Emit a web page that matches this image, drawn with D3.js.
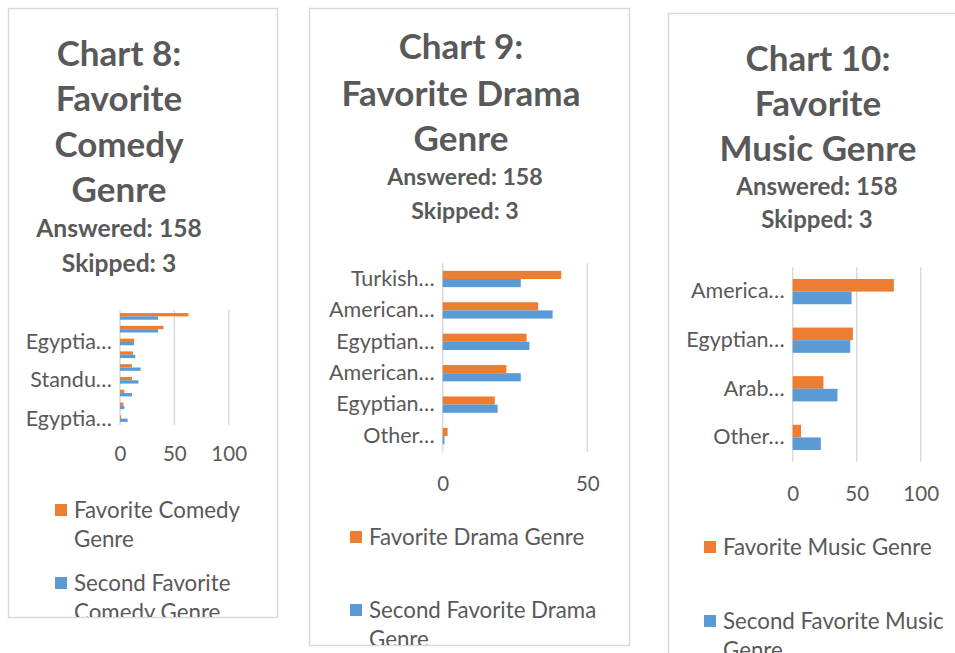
<!DOCTYPE html>
<html>
<head>
<meta charset="utf-8">
<script src="https://cdn.jsdelivr.net/npm/d3@7"></script>
<style>
  html, body { margin: 0; padding: 0; background: #ffffff; }
  svg text { font-family: Lato, "Open Sans", sans-serif; fill: #595959; }
</style>
</head>
<body>
<div id="chart"></div>
<script>
'use strict';

// chart 8 - comedy (top to bottom as drawn)
const comedyLabels = ["American…", "Egyptian…", "Egyptia…", "British…", "Arab…", "Standu…", "Sketch…", "Other…", "Egyptia…"];
const comedyShown = [2, 5, 8];
const comedyFavorite = [63, 40, 13, 12, 11, 11, 4, 3, 1];
const comedySecond = [35, 35, 13, 14, 19, 17, 11, 4, 7];
const comedyTicks = [0, 50, 100];
const comedyTitle = ["Chart 8:", "Favorite", "Comedy", "Genre"];
const comedySeries = ["Favorite Comedy Genre", "Second Favorite Comedy Genre"];

// chart 9 - drama
const dramaLabels = ["Turkish…", "American…", "Egyptian…", "American…", "Egyptian…", "Other…"];
const dramaFavorite = [41, 33, 29, 22, 18, 1.7];
const dramaSecond = [27, 38, 30, 27, 19, 0.6];
const dramaTicks = [0, 50];
const dramaTitle = ["Chart 9:", "Favorite Drama", "Genre"];
const dramaSeries = ["Favorite Drama Genre", "Second Favorite Drama Genre"];

// chart 10 - music
const musicLabels = ["America…", "Egyptian…", "Arab…", "Other…"];
const musicFavorite = [79, 47, 24, 6.5];
const musicSecond = [46, 45, 35, 22];
const musicTicks = [0, 50, 100];
const musicTitle = ["Chart 10:", "Favorite", "Music Genre"];
const musicSeries = ["Favorite Music Genre", "Second Favorite Music Genre"];

const subtitle = ["Answered: 158", "Skipped: 3"];

const orange = "#ED7D31";
const blue = "#5B9BD5";
const grid = "#D9D9D9";

const svg = d3.select("#chart")
    .append("svg")
    .attr("width", 955)
    .attr("height", 653);

function drawPanel(id, cfg) {

    const defs = svg.append("defs");
    defs.append("clipPath")
        .attr("id", "clip-" + id)
        .append("rect")
        .attr("x", cfg.box[0])
        .attr("y", cfg.box[1])
        .attr("width", cfg.box[2])
        .attr("height", cfg.box[3]);

    svg.append("rect")
        .attr("x", cfg.box[0] + 0.5)
        .attr("y", cfg.box[1] + 0.5)
        .attr("width", cfg.box[2])
        .attr("height", cfg.box[3])
        .attr("fill", "#fff")
        .attr("stroke", grid)
        .attr("stroke-width", 1.5);

    const g = svg.append("g").attr("clip-path", "url(#clip-" + id + ")");

    // title
    g.selectAll(".title")
        .data(cfg.title)
        .enter()
        .append("text")
        .attr("x", cfg.titleX)
        .attr("y", (d, i) => cfg.titleY[i])
        .attr("dy", "0.36em")
        .attr("text-anchor", "middle")
        .attr("font-size", 35)
        .attr("font-weight", 700)
        .text(d => d);

    g.selectAll(".sub")
        .data(subtitle)
        .enter()
        .append("text")
        .attr("x", cfg.subX)
        .attr("y", (d, i) => cfg.subY[i])
        .attr("dy", "0.36em")
        .attr("text-anchor", "middle")
        .attr("font-size", cfg.subSize)
        .attr("font-weight", 700)
        .text(d => d);

    const p = cfg.plot;
    const n = cfg.labels.length;

    const x = d3.scaleLinear()
        .domain([0, d3.max(cfg.ticks)])
        .range([p.left, p.right]);

    const y = d3.scaleBand()
        .domain(d3.range(n))
        .range([p.top, p.bottom])
        .paddingInner(0.48)
        .paddingOuter(0.24);

    const y1 = d3.scaleBand()
        .domain([0, 1])
        .range([0, y.bandwidth()]);

    // gridlines
    g.selectAll(".grid")
        .data(cfg.ticks)
        .enter()
        .append("line")
        .attr("x1", d => x(d))
        .attr("x2", d => x(d))
        .attr("y1", p.top)
        .attr("y2", p.bottom)
        .attr("stroke", grid)
        .attr("stroke-width", 1.5);

    // bars
    const rows = d3.range(n).map(i => [cfg.fav[i], cfg.second[i]]);
    const row = g.selectAll(".row")
        .data(rows)
        .enter()
        .append("g")
        .attr("transform", (d, i) => "translate(0," + y(i) + ")");

    row.selectAll("rect")
        .data(d => d)
        .enter()
        .append("rect")
        .attr("x", x(0))
        .attr("y", (d, j) => y1(j))
        .attr("width", d => x(d) - x(0))
        .attr("height", y1.bandwidth())
        .attr("fill", (d, j) => j === 0 ? orange : blue);

    // category axis
    const yAxis = g.append("g")
        .attr("transform", "translate(" + p.left + ",0)")
        .call(d3.axisLeft(y)
            .tickValues(cfg.shown || d3.range(n))
            .tickSize(0)
            .tickPadding(8)
            .tickFormat(i => cfg.labels[i]));
    yAxis.select(".domain").remove();
    yAxis.selectAll("text")
        .attr("font-size", 21.5)
        .attr("font-family", null)
        .attr("fill", null);

    // value axis
    const xAxis = g.append("g")
        .attr("transform", "translate(0," + cfg.xTickY + ")")
        .call(d3.axisBottom(x)
            .tickValues(cfg.ticks)
            .tickSize(0)
            .tickPadding(0));
    xAxis.select(".domain").remove();
    xAxis.selectAll("text")
        .attr("dy", "0.36em")
        .attr("y", 0)
        .attr("font-size", 20.5)
        .attr("font-family", null)
        .attr("fill", null);

    // legend
    const lg = cfg.legend;
    cfg.series.forEach((name, k) => {
        g.append("rect")
            .attr("x", lg.x)
            .attr("y", lg.y[k] - 6)
            .attr("width", 12)
            .attr("height", 12)
            .attr("fill", k === 0 ? orange : blue);

        const t = g.append("text")
            .attr("x", lg.x + 19)
            .attr("y", lg.y[k])
            .attr("font-size", 22.3);

        // simple word wrap
        const words = name.split(" ");
        let line = [];
        let tspan = t.append("tspan").attr("x", lg.x + 19).attr("dy", "0.36em");
        words.forEach(w => {
            line.push(w);
            tspan.text(line.join(" "));
            if (tspan.node().getComputedTextLength() > lg.wrap && line.length > 1) {
                line.pop();
                tspan.text(line.join(" "));
                line = [w];
                tspan = t.append("tspan")
                    .attr("x", lg.x + 19)
                    .attr("dy", 29)
                    .text(w);
            }
        });
    });
}

drawPanel("comedy", {
    box: [8, 8, 269, 609],
    title: comedyTitle,
    titleX: 119,
    titleY: [53, 98, 144, 189],
    subX: 119,
    subY: [228, 263],
    subSize: 24.6,
    plot: { left: 120, right: 228.7, top: 310, bottom: 425 },
    labels: comedyLabels,
    shown: comedyShown,
    fav: comedyFavorite,
    second: comedySecond,
    ticks: comedyTicks,
    xTickY: 454,
    series: comedySeries,
    legend: { x: 55, y: [510, 583], wrap: 192 }
});

drawPanel("drama", {
    box: [309, 8, 320, 637],
    title: dramaTitle,
    titleX: 461,
    titleY: [46, 93, 138],
    subX: 465,
    subY: [177, 211],
    subSize: 23.1,
    plot: { left: 442.7, right: 587.3, top: 263.3, bottom: 451.7 },
    labels: dramaLabels,
    fav: dramaFavorite,
    second: dramaSecond,
    ticks: dramaTicks,
    xTickY: 484,
    series: dramaSeries,
    legend: { x: 350, y: [537, 610], wrap: 240 }
});

drawPanel("music", {
    box: [668, 13, 300, 660],
    title: musicTitle,
    titleX: 818,
    titleY: [58, 103, 148],
    subX: 817,
    subY: [186, 219],
    subSize: 24,
    plot: { left: 792.7, right: 920.7, top: 267.3, bottom: 461.7 },
    labels: musicLabels,
    fav: musicFavorite,
    second: musicSecond,
    ticks: musicTicks,
    xTickY: 494,
    series: musicSeries,
    legend: { x: 704, y: [547, 621], wrap: 232 }
});
</script>
</body>
</html>
